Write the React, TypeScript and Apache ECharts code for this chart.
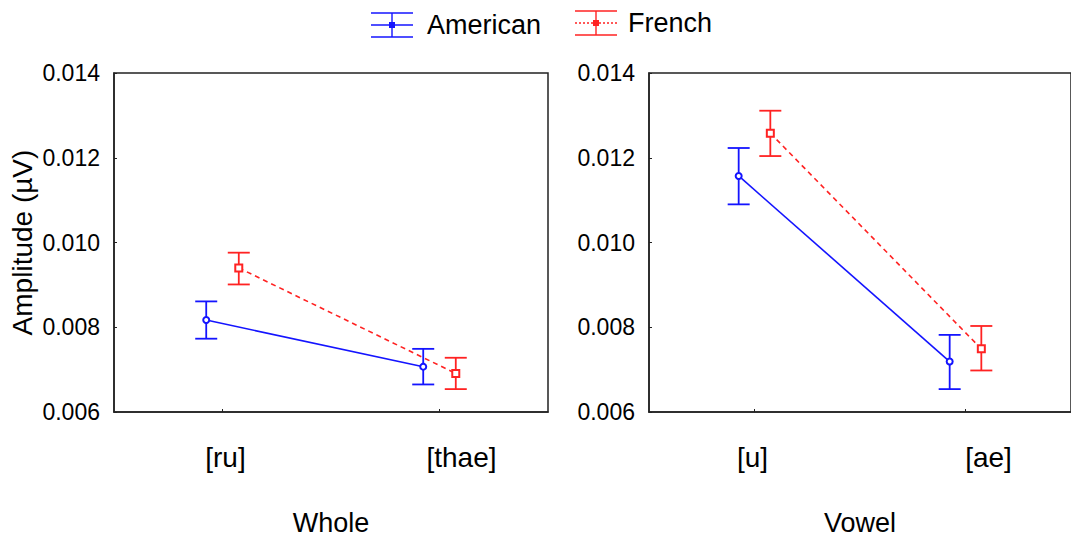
import React, { useEffect, useRef } from "react";
import * as echarts from "echarts";

// ---- data ----
const panelNames = ["Whole", "Vowel"];
const categories = [
  ["[ru]", "[thae]"],
  ["[u]", "[ae]"],
];
const seriesNames = ["American", "French"];
const americanMean = [
  [0.00817, 0.00707],
  [0.01157, 0.00719],
];
const americanLow = [
  [0.00773, 0.00665],
  [0.0109, 0.00654],
];
const americanHigh = [
  [0.00861, 0.00749],
  [0.01223, 0.00782],
];
const frenchMean = [
  [0.0094, 0.00691],
  [0.01258, 0.00749],
];
const frenchLow = [
  [0.00901, 0.00654],
  [0.01204, 0.00698],
];
const frenchHigh = [
  [0.00976, 0.00728],
  [0.01311, 0.00803],
];
const yMin = 0.006;
const yMax = 0.014;
const yStep = 0.002;

// ---- layout / style ----
const BLUE = "#1414ff";
const RED = "#ff2222";
const FONT = "'Liberation Sans', Arial, sans-serif";
const gridLefts = [114, 649];
const labelShift = [
  [3, 22],
  [-2, 23],
];
const offset = 0.075;

function errorBarSeries(p: number, name: string, color: string, low: number[][], high: number[][], dx: number) {
  return {
    type: "custom",
    name,
    xAxisIndex: p,
    yAxisIndex: p,
    z: 1,
    silent: true,
    data: low[p].map((lo, i) => [i + dx, lo, high[p][i]]),
    encode: { x: 0, y: [1, 2] },
    renderItem: (params: any, api: any) => {
      const x = api.value(0);
      const a = api.coord([x, api.value(1)]);
      const b = api.coord([x, api.value(2)]);
      const w = 11;
      const style = { stroke: color, lineWidth: 1.8, fill: "none" };
      return {
        type: "group",
        children: [
          { type: "line", shape: { x1: a[0], y1: a[1], x2: b[0], y2: b[1] }, style },
          { type: "line", shape: { x1: a[0] - w, y1: a[1], x2: a[0] + w, y2: a[1] }, style },
          { type: "line", shape: { x1: b[0] - w, y1: b[1], x2: b[0] + w, y2: b[1] }, style },
        ],
      };
    },
  };
}

function lineSeries(p: number, name: string, color: string, mean: number[][], dx: number, dashed: boolean) {
  return {
    type: "line",
    name,
    xAxisIndex: p,
    yAxisIndex: p,
    z: 3,
    data: mean[p].map((v, i) => [i + dx, v]),
    symbol: dashed ? "emptyRect" : "emptyCircle",
    symbolSize: dashed ? 7 : 6,
    itemStyle: { color, borderWidth: 1 },
    lineStyle: { color, width: 1.6, type: dashed ? [5, 4] : "solid" },
  };
}

export default function App() {
  const ref = useRef<HTMLDivElement>(null);
  useEffect(() => {
    if (!ref.current) return;
    const chart = echarts.init(ref.current, undefined, { renderer: "svg" });
    const grids = gridLefts.map((left) => ({
      left,
      top: 73,
      width: 434,
      height: 343,
      show: true,
      borderColor: "#222",
      borderWidth: 1.5,
      backgroundColor: "#fff",
    }));
    const catRich = (p: number, i: number) => ({
      fontFamily: FONT,
      fontSize: 28,
      color: "#000",
      padding: [0, Math.max(0, -2 * labelShift[p][i]), 0, Math.max(0, 2 * labelShift[p][i])],
    });
    const xAxes = [0, 1].map((p) => ({
      type: "value",
      gridIndex: p,
      min: -0.5,
      max: 1.5,
      name: panelNames[p],
      nameLocation: "middle",
      nameGap: 97,
      nameTextStyle: { fontFamily: FONT, fontSize: 27, color: "#000" },
      axisLine: { show: true, onZero: false, lineStyle: { color: "#222", width: 1.5 } },
      axisTick: { show: true, inside: true, length: 3, customValues: [0, 1], lineStyle: { color: "#222" } },
      splitLine: { show: false },
      axisLabel: {
        customValues: [0, 1],
        margin: 31,
        fontFamily: FONT,
        fontSize: 28,
        color: "#000",
        formatter: (v: number) => `{s${Math.round(v)}|${categories[p][Math.round(v)]}}`,
        rich: { s0: catRich(p, 0), s1: catRich(p, 1) },
      },
    }));
    const yAxes = [0, 1].map((p) => ({
      type: "value",
      gridIndex: p,
      min: yMin,
      max: yMax,
      interval: yStep,
      name: p === 0 ? "Amplitude (µV)" : "",
      nameLocation: "middle",
      nameGap: 78,
      nameTextStyle: { fontFamily: FONT, fontSize: 28, color: "#000" },
      axisLine: { show: true, onZero: false, lineStyle: { color: "#222", width: 1.5 } },
      axisTick: { show: true, inside: true, length: 3, lineStyle: { color: "#222" } },
      splitLine: { show: false },
      axisLabel: {
        margin: 14,
        fontFamily: FONT,
        fontSize: 23,
        color: "#000",
        formatter: (v: number) => v.toFixed(3),
      },
    }));
    const series: any[] = [];
    [0, 1].forEach((p) => {
      series.push(errorBarSeries(p, seriesNames[0], BLUE, americanLow, americanHigh, -offset));
      series.push(errorBarSeries(p, seriesNames[1], RED, frenchLow, frenchHigh, offset));
      series.push(lineSeries(p, seriesNames[0], BLUE, americanMean, -offset, false));
      series.push(lineSeries(p, seriesNames[1], RED, frenchMean, offset, true));
    });

    const legendItem = (x: number, y: number, color: string, dashed: boolean, label: string, textX: number) => {
      const s = { stroke: color, lineWidth: 1.4 };
      return {
        type: "group",
        children: [
          { type: "line", shape: { x1: x - 21, y1: y - 12, x2: x + 21, y2: y - 12 }, style: s },
          { type: "line", shape: { x1: x - 21, y1: y + 12, x2: x + 21, y2: y + 12 }, style: s },
          {
            type: "line",
            shape: { x1: x - 21, y1: y, x2: x + 21, y2: y },
            style: { ...s, lineDash: dashed ? [2, 2] : null },
          },
          { type: "line", shape: { x1: x, y1: y - 12, x2: x, y2: y + 12 }, style: s },
          { type: "rect", shape: { x: x - 3, y: y - 3, width: 6, height: 6 }, style: { fill: color } },
          {
            type: "text",
            x: textX,
            y,
            style: {
              text: label,
              fontFamily: FONT,
              fontSize: 27,
              fill: "#000",
              verticalAlign: "middle",
              align: "left",
            },
          },
        ],
      };
    };

    chart.setOption({
      animation: false,
      backgroundColor: "#fff",
      grid: grids,
      xAxis: xAxes,
      yAxis: yAxes,
      series,
      graphic: [
        legendItem(392, 25, BLUE, false, seriesNames[0], 427),
        legendItem(596, 23, RED, true, seriesNames[1], 628),
      ],
    });
    return () => chart.dispose();
  }, []);
  return (
    <div
      ref={ref}
      style={{ position: "fixed", left: 0, top: 0, width: 1071, height: 541, background: "#fff" }}
    />
  );
}
